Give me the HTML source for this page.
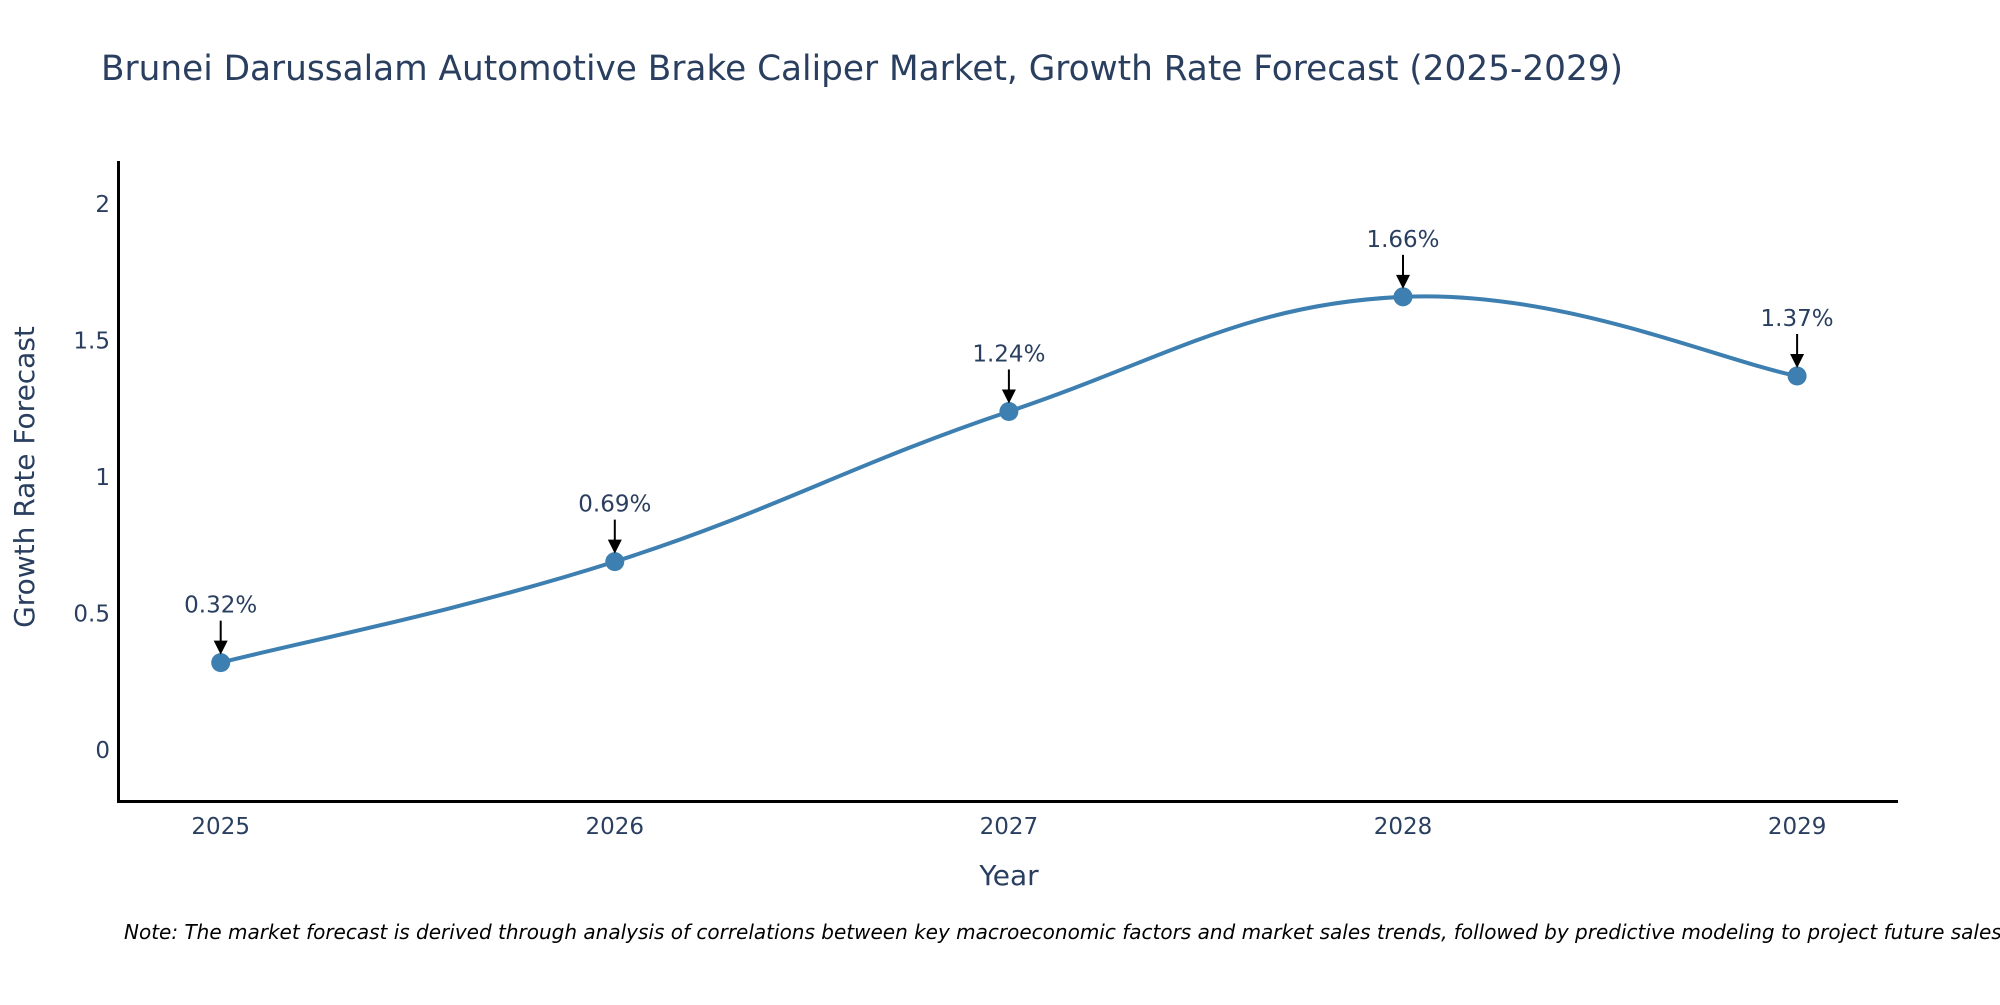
<!DOCTYPE html>
<html><head><meta charset="utf-8"><style>
body{margin:0;background:#fff;width:2000px;height:1000px;overflow:hidden}
svg text{font-family:"DejaVu Sans","Liberation Sans",sans-serif;fill:#2a3f5f}
</style></head><body>
<svg id="chart" width="2000" height="1000">
<text x="101" y="80" font-size="34.3">Brunei Darussalam Automotive Brake Caliper Market, Growth Rate Forecast (2025-2029)</text>
<g id="yticks"></g><g id="xticks"></g>
<line x1="118.5" y1="161" x2="118.5" y2="802" stroke="#000" stroke-width="3"/>
<line x1="117" y1="801.5" x2="1898" y2="801.5" stroke="#000" stroke-width="3"/>
<path id="line" fill="none" stroke="#3d7fb0" stroke-width="4"/>
<g id="marks"></g>
<text x="34" y="477" font-size="28" text-anchor="middle" transform="rotate(-90 34 477)">Growth Rate Forecast</text>
<text x="1009" y="885" font-size="28" text-anchor="middle">Year</text>
<text x="124" y="939" font-size="20" font-style="italic" style="fill:#000">Note: The market forecast is derived through analysis of correlations between key macroeconomic factors and market sales trends, followed by predictive modeling to project future sales.</text>
</svg>
<script>
const years=[2025,2026,2027,2028,2029];
const values=[0.32,0.69,1.24,1.66,1.37];
const labels=["0.32%","0.69%","1.24%","1.66%","1.37%"];
const yTicks=[0,0.5,1,1.5,2];
const NS="http://www.w3.org/2000/svg";
const xs=y=>220.7+(y-2025)*394.1;
const ys=v=>750-v*273;
function mk(t,a,p){const e=document.createElementNS(NS,t);for(const k in a)e.setAttribute(k,a[k]);p.appendChild(e);return e;}
const yt=document.getElementById('yticks');
yTicks.forEach(v=>{const t=mk('text',{x:110,y:ys(v)+8,'font-size':23,'text-anchor':'end'},yt);t.textContent=v;

});
const xt=document.getElementById('xticks');
years.forEach(y=>{const t=mk('text',{x:xs(y),y:834,'font-size':23,'text-anchor':'middle'},xt);t.textContent=y;

});
const P=years.map((y,i)=>[xs(y),ys(values[i])]);
let d=`M${P[0][0]},${P[0][1]}`;const k=0.2;
for(let i=0;i<P.length-1;i++){const p0=P[Math.max(i-1,0)],p1=P[i],p2=P[i+1],p3=P[Math.min(i+2,P.length-1)];
const c1=[p1[0]+(p2[0]-p0[0])*k,p1[1]+(p2[1]-p0[1])*k],c2=[p2[0]-(p3[0]-p1[0])*k,p2[1]-(p3[1]-p1[1])*k];
d+=` C${c1[0]},${c1[1]} ${c2[0]},${c2[1]} ${p2[0]},${p2[1]}`;}
document.getElementById('line').setAttribute('d',d);
const g=document.getElementById('marks');
P.forEach((p,i)=>{const c=mk('circle',{cx:p[0],cy:p[1],r:9.5,fill:'#3d7fb0'},g);


const l=mk('line',{x1:p[0],y1:p[1]-42,x2:p[0],y2:p[1]-20,stroke:'#000','stroke-width':2},g);


const a=mk('polygon',{points:`${p[0]-7},${p[1]-22} ${p[0]+7},${p[1]-22} ${p[0]},${p[1]-8}`,fill:'#000'},g);


const t=mk('text',{x:p[0],y:p[1]-50,'font-size':23,'text-anchor':'middle'},g);t.textContent=labels[i];

});
</script>
</body></html>
